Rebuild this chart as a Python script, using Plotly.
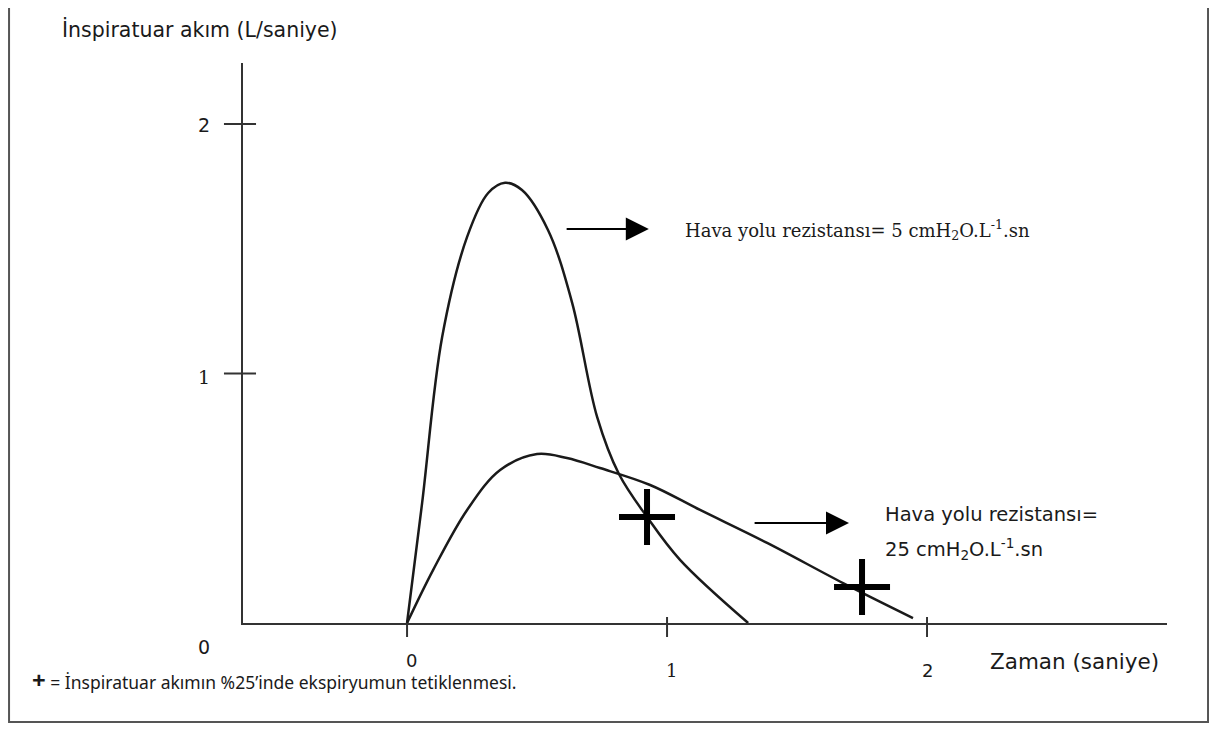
import plotly.graph_objects as go

# ---- data ----
t_high = [0, 0.058, 0.135, 0.231, 0.312, 0.377, 0.442, 0.542, 0.635, 0.731,
          0.815, 0.923, 1.050, 1.312]
flow_high = [0, 0.481, 1.146, 1.547, 1.723, 1.764, 1.735, 1.575, 1.283, 0.826,
             0.597, 0.425, 0.253, 0]
t_low = [0, 0.100, 0.231, 0.358, 0.500, 0.615, 0.742, 0.935, 1.127, 1.385, 1.677, 1.946]
flow_low = [0, 0.212, 0.453, 0.613, 0.677, 0.661, 0.621, 0.553, 0.453, 0.321, 0.160, 0.020]
trigger_t = [0.923, 1.75]
trigger_flow = [0.425, 0.144]

x_ticks = [0, 1, 2]
x_tick_labels = ["0", "1", "2"]
y_ticks = [1, 2]
y_tick_labels = ["1", "2"]
y_zero_label = "0"

arrow_tail_t = [0.608, 1.331]
arrow_tip_t = [0.93, 1.70]
arrow_flow = [1.579, 0.401]

label_high = "Hava yolu rezistansı= 5 cmH<sub>2</sub>O.L<sup>-1</sup>.sn"
label_low_1 = "Hava yolu rezistansı="
label_low_2 = "25 cmH<sub>2</sub>O.L<sup>-1</sup>.sn"
label_t = [1.062, 1.831, 1.831]
label_flow = [1.575, 0.433, 0.295]

y_title = "İnspiratuar akım (L/saniye)"
x_title = "Zaman (saniye)"
note = ("<span style='font-size:24px'><b>+</b></span> = "
        "İnspiratuar akımın %25’inde ekspiryumun tetiklenmesi.")

INK = "#1a1a1a"
AX = "#333333"

fig = go.Figure()
fig.add_trace(go.Scatter(x=t_high, y=flow_high, mode="lines",
                         line=dict(color=INK, width=2.5, shape="spline", smoothing=1.0),
                         hoverinfo="skip"))
fig.add_trace(go.Scatter(x=t_low, y=flow_low, mode="lines",
                         line=dict(color=INK, width=2.5, shape="spline", smoothing=1.0),
                         hoverinfo="skip"))
fig.add_trace(go.Scatter(x=trigger_t, y=trigger_flow, mode="markers",
                         marker=dict(symbol="cross-thin", size=40,
                                     line=dict(color="black", width=6)),
                         hoverinfo="skip"))

shapes = []
# y tick marks crossing the axis
for v in y_ticks:
    shapes.append(dict(type="line", xref="paper", yref="y", x0=-0.0206, x1=0.0141,
                       y0=v, y1=v, line=dict(color=AX, width=2)))
# x tick marks
for v in x_ticks:
    top = 0 if v == 0 else 0.0107
    shapes.append(dict(type="line", xref="x", yref="paper", x0=v, x1=v,
                       y0=top, y1=-0.025, line=dict(color=AX, width=2)))
# outer frame
shapes.append(dict(type="rect", xref="paper", yref="paper", x0=-0.2532, x1=1.0444,
                   y0=-0.1768, y1=1.105, line=dict(color="#555555", width=2)))

annotations = []
for v, lab in zip(y_ticks, y_tick_labels):
    annotations.append(dict(x=-0.042, xref="paper", y=v, yref="y", text=lab, showarrow=False,
                            xanchor="center", yanchor="middle", yshift=-4 if v == 1 else -1,
                            font=dict(family="DejaVu Serif" if lab == "1" else "DejaVu Sans",
                                      size=19, color=INK)))
annotations.append(dict(x=-0.042, xref="paper", y=0, yref="y", text=y_zero_label, showarrow=False,
                        xanchor="center", yanchor="middle", yshift=-24,
                        font=dict(family="DejaVu Sans", size=19, color=INK)))
for v, lab in zip(x_ticks, x_tick_labels):
    annotations.append(dict(x=v, xref="x", y=0, yref="y", text=lab, showarrow=False,
                            xanchor="center", yanchor="middle",
                            xshift=4 if v != 2 else 0, yshift=-37 if v == 0 else -47,
                            font=dict(family="DejaVu Serif" if lab == "1" else "DejaVu Sans",
                                      size=18, color=INK)))
for a0, a1, fy in zip(arrow_tail_t, arrow_tip_t, arrow_flow):
    annotations.append(dict(x=a1, y=fy, xref="x", yref="y", ax=a0, ay=fy, axref="x", ayref="y",
                            text="", showarrow=True, arrowhead=2, arrowsize=2.3,
                            arrowwidth=2, arrowcolor="black", standoff=0))
annotations.append(dict(x=label_t[0], y=label_flow[0], xref="x", yref="y", text=label_high,
                        showarrow=False, xanchor="left", yanchor="middle",
                        font=dict(family="DejaVu Serif", size=18, color=INK)))
annotations.append(dict(x=label_t[1], y=label_flow[1], xref="x", yref="y", text=label_low_1,
                        showarrow=False, xanchor="left", yanchor="middle",
                        font=dict(family="DejaVu Sans", size=19.5, color=INK)))
annotations.append(dict(x=label_t[2], y=label_flow[2], xref="x", yref="y", text=label_low_2,
                        showarrow=False, xanchor="left", yanchor="middle",
                        font=dict(family="DejaVu Sans", size=19.5, color=INK)))
annotations.append(dict(x=-0.198, y=1.059, xref="paper", yref="paper", text=y_title,
                        showarrow=False, xanchor="left", yanchor="middle",
                        font=dict(family="DejaVu Sans", size=20.5, color=INK)))
annotations.append(dict(x=0.806, y=-0.068, xref="paper", yref="paper", text=x_title,
                        showarrow=False, xanchor="left", yanchor="middle",
                        font=dict(family="DejaVu Sans", size=21.5, color=INK)))
annotations.append(dict(x=-0.2305, y=-0.1, xref="paper", yref="paper", text=note,
                        showarrow=False, xanchor="left", yanchor="middle",
                        font=dict(family="Noto Sans", size=17.5, color=INK)))

# The page adds an 8 px body margin, so the figure is 16 px smaller than the window.
fig.update_layout(
    width=1209, height=723,
    margin=dict(l=235, r=50, t=55, b=108),
    paper_bgcolor="white", plot_bgcolor="white",
    showlegend=False,
    shapes=shapes, annotations=annotations,
    xaxis=dict(range=[-0.631, 2.923], showline=True, linecolor=AX, linewidth=2,
               showgrid=False, zeroline=False, showticklabels=False, ticks=""),
    yaxis=dict(range=[0, 2.244], showline=True, linecolor=AX, linewidth=2,
               showgrid=False, zeroline=False, showticklabels=False, ticks=""),
)

fig.write_html("out.html")
